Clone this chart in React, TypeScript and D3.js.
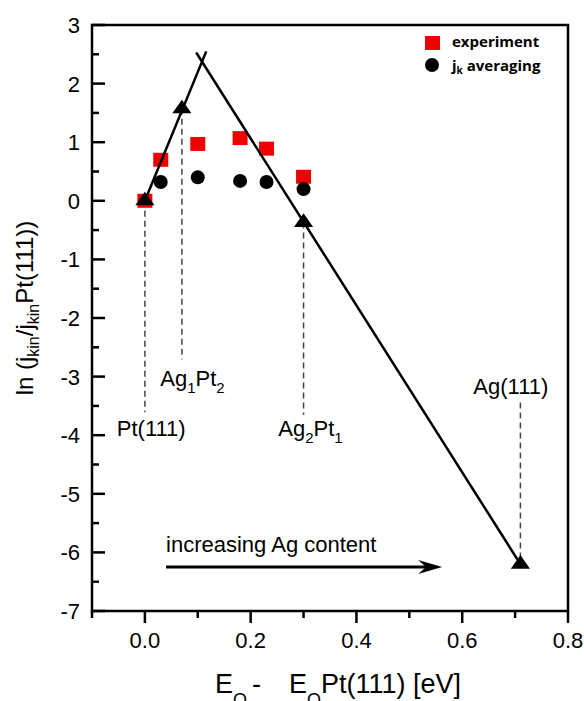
import React from "react";
import * as d3 from "d3";

// ---- data ----
const expX = [0, 0.03, 0.1, 0.18, 0.23, 0.3];
const expY = [0, 0.7, 0.97, 1.07, 0.89, 0.41];
const avgX = [0.03, 0.1, 0.18, 0.23, 0.3];
const avgY = [0.32, 0.4, 0.34, 0.32, 0.2];
const triX = [0, 0.07, 0.3, 0.71];
const triY = [0, 1.57, -0.37, -6.2];
const riseX = [0, 0.116];
const riseY = [0, 2.55];
const fallX = [0.097, 0.71];
const fallY = [2.53, -6.2];
const dropX = [0, 0.07, 0.3, 0.71];
const dropTop = [0, 1.57, -0.37, -3.44];
const dropBottom = [-3.61, -2.71, -3.65, -6.2];
const xTicks = [0, 0.2, 0.4, 0.6, 0.8];
const xTickLabels = ["0.0", "0.2", "0.4", "0.6", "0.8"];
const xMinor = [-0.1, 0.1, 0.3, 0.5, 0.7];
const yTicks = [-7, -6, -5, -4, -3, -2, -1, 0, 1, 2, 3];
const yMinor = [-6.5, -5.5, -4.5, -3.5, -2.5, -1.5, -0.5, 0.5, 1.5, 2.5];
const arrowX = [0.04, 0.562];
const arrowY = -6.25;

const W = 584;
const H = 701;
const FONT = "'Liberation Sans', Arial, sans-serif";
const RED = "#f00000";

export default function App() {
  const x = d3.scaleLinear().domain([-0.1, 0.8]).range([92, 568]);
  const y = d3.scaleLinear().domain([-7, 3]).range([611, 25]);
  const line = d3
    .line<[number, number]>()
    .x((d) => x(d[0]))
    .y((d) => y(d[1]));
  const tri = d3.symbol().type(d3.symbolTriangle).size(120)();
  const ax0 = x(arrowX[0]);
  const ax1 = x(arrowX[1]);
  const ay = y(arrowY);

  return (
    <svg
      width={W}
      height={H}
      style={{ position: "absolute", left: 0, top: 0, background: "#fff" }}
      fontFamily={FONT}
    >
      {/* dashed drop lines */}
      {dropX.map((dx, i) => (
        <line
          key={"d" + i}
          x1={x(dx)}
          x2={x(dx)}
          y1={y(dropTop[i])}
          y2={y(dropBottom[i])}
          stroke="#444"
          strokeWidth={1.5}
          strokeDasharray="6,4"
        />
      ))}

      {/* experiment squares */}
      {expX.map((v, i) => (
        <rect
          key={"s" + i}
          x={x(v) - 7.5}
          y={y(expY[i]) - 7}
          width={15}
          height={14}
          fill={RED}
        />
      ))}
      {/* averaging circles */}
      {avgX.map((v, i) => (
        <circle key={"c" + i} cx={x(v)} cy={y(avgY[i])} r={7} fill="#000" />
      ))}

      {/* trend lines */}
      <path
        d={line(riseX.map((v, i) => [v, riseY[i]]) as [number, number][]) || ""}
        stroke="#000"
        strokeWidth={2.5}
        fill="none"
      />
      <path
        d={line(fallX.map((v, i) => [v, fallY[i]]) as [number, number][]) || ""}
        stroke="#000"
        strokeWidth={2.5}
        fill="none"
      />
      {/* triangles */}
      {triX.map((v, i) => (
        <path
          key={"t" + i}
          d={tri || ""}
          transform={`translate(${x(v)},${y(triY[i])}) scale(1.15,0.95)`}
          fill="#000"
        />
      ))}

      {/* axes frame */}
      <rect
        x={x(-0.1)}
        y={y(3)}
        width={x(0.8) - x(-0.1)}
        height={y(-7) - y(3)}
        fill="none"
        stroke="#000"
        strokeWidth={2.5}
      />
      {/* y ticks (inward) */}
      {yTicks.map((t) => (
        <g key={"yt" + t}>
          <line x1={x(-0.1)} x2={x(-0.1) + 13} y1={y(t)} y2={y(t)} stroke="#000" strokeWidth={2.5} />
          <text x={80} y={y(t)} dy="0.36em" textAnchor="end" fontSize={22}>
            {t}
          </text>
        </g>
      ))}
      {yMinor.map((t) => (
        <line key={"ym" + t} x1={x(-0.1)} x2={x(-0.1) + 7} y1={y(t)} y2={y(t)} stroke="#000" strokeWidth={2.5} />
      ))}
      {/* x ticks (outward) */}
      {xTicks.map((t, i) => (
        <g key={"xt" + t}>
          <line x1={x(t)} x2={x(t)} y1={y(-7)} y2={y(-7) + 12} stroke="#000" strokeWidth={2.5} />
          <text x={x(t)} y={648} textAnchor="middle" fontSize={22}>
            {xTickLabels[i]}
          </text>
        </g>
      ))}
      {xMinor.map((t) => (
        <line key={"xm" + t} x1={x(t)} x2={x(t)} y1={y(-7)} y2={y(-7) + 7} stroke="#000" strokeWidth={2.5} />
      ))}

      {/* annotations */}
      <text x={x(0.012)} y={y(-4.01)} textAnchor="middle" fontSize={22}>
        Pt(111)
      </text>
      <text x={x(0.09)} y={y(-3.16)} textAnchor="middle" fontSize={22}>
        Ag<tspan fontSize={15} dy={7}>1</tspan>
        <tspan dy={-7}>Pt</tspan>
        <tspan fontSize={15} dy={7}>2</tspan>
      </text>
      <text x={x(0.313)} y={y(-4.01)} textAnchor="middle" fontSize={22}>
        Ag<tspan fontSize={15} dy={7}>2</tspan>
        <tspan dy={-7}>Pt</tspan>
        <tspan fontSize={15} dy={7}>1</tspan>
      </text>
      <text x={x(0.692)} y={y(-3.29)} textAnchor="middle" fontSize={22}>
        Ag(111)
      </text>
      <text x={ax0} y={552} fontSize={22}>
        increasing Ag content
      </text>
      <line x1={ax0} x2={ax1 - 12} y1={ay} y2={ay} stroke="#000" strokeWidth={3} />
      <path
        d={`M${ax1},${ay} L${ax1 - 24},${ay - 7} L${ax1 - 16},${ay} L${ax1 - 24},${ay + 7} Z`}
        fill="#000"
      />

      {/* legend */}
      <rect x={425} y={36} width={15} height={14} fill={RED} />
      <circle cx={432} cy={65} r={7} fill="#000" />
      <text x={452} y={47} fontSize={15} fontWeight={700} fontFamily="'Open Sans', sans-serif">
        experiment
      </text>
      <text x={452} y={71} fontSize={15} fontWeight={700} fontFamily="'Open Sans', sans-serif">
        j<tspan fontSize={10} dy={3}>k</tspan>
        <tspan dy={-3}> averaging</tspan>
      </text>

      {/* axis titles */}
      <text x={215} y={693} fontSize={27}>
        E<tspan fontSize={18} dy={13}>O</tspan>
        <tspan x={252} dy={-13}>-</tspan>
        <tspan x={289}>E</tspan>
        <tspan fontSize={18} dy={13}>O</tspan>
        <tspan dy={-13}>Pt(111) [eV]</tspan>
      </text>
      <text transform="translate(33,308) rotate(-90)" textAnchor="middle" fontSize={24}>
        ln (j<tspan fontSize={16} dy={6}>kin</tspan>
        <tspan dy={-6}>/j</tspan>
        <tspan fontSize={16} dy={6}>kin</tspan>
        <tspan dy={-6}>Pt(111))</tspan>
      </text>
    </svg>
  );
}
